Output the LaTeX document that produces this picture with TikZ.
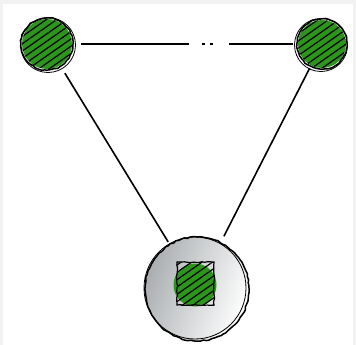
\documentclass[tikz,border=0pt]{standalone}
\usetikzlibrary{patterns.meta,decorations.pathmorphing,shadings}
\definecolor{nodegreen}{RGB}{44,150,28}
\definecolor{framegray}{RGB}{242,242,242}
\definecolor{shadedark}{RGB}{170,174,177}
\tikzset{
  dot/.style={circle,inner sep=0pt,fill=nodegreen,draw=none},
  hatch/.style={pattern={Lines[angle=35,distance=6pt,line width=1.2pt]},pattern color=black},
  sketch/.style={draw=black,line width=1.5pt,decorate,decoration={random steps,segment length=3pt,amplitude=0.6pt}},
  edge/.style={draw=black,line width=1.6pt},
}
\begin{document}
\begin{tikzpicture}[x=1pt,y=-1pt]
\useasboundingbox (0,0) rectangle (356,345);
\fill[framegray] (0,0) rectangle (356,345);
\fill[white] (3,4) rectangle (353,345);
% nodes
\node[dot,minimum size=50pt] (L) at (47,44) {};
\node[dot,minimum size=48pt] (R) at (322,44) {};
\node[circle,inner sep=0pt,minimum size=104pt,left color=shadedark,right color=white,shading angle=70] (B) at (197,289) {};
% hatching of top circles
\fill[hatch] (L.center) circle (25);
\fill[hatch] (R.center) circle (24);
\draw[sketch] (L.center) circle (26);
\draw[black,line width=0.8pt] ([xshift=1pt,yshift=-1pt]L.center) circle (27.5);
\draw[sketch] (R.center) circle (25);
\draw[black,line width=0.8pt] ([xshift=-1pt,yshift=-1pt]R.center) circle (26.5);
% bottom node outline
\draw[sketch] (B.center) circle (52);
\draw[black,line width=0.8pt] ([xshift=-2pt,yshift=1pt]B.center) circle (51);
% inner green circle and hatched square
\node[dot,minimum size=43pt] (I) at (195,285) {};
\coordinate (S1) at (177,262);
\coordinate (S2) at (214,305);
\fill[hatch] (S1) rectangle (S2);
\draw[sketch,line width=1.2pt] (S1) rectangle (S2);
% connectors
\draw[edge,shorten <=9pt,shorten >=3pt] (L) -- (B);
\draw[edge,shorten <=3pt,shorten >=7pt] (R) -- (B);
\draw[edge,shorten <=9pt,shorten >=5pt,dash pattern=on 108pt off 13pt on 3pt off 5pt on 3pt off 16pt on 80pt] (L) -- (R);
\end{tikzpicture}
\end{document}
